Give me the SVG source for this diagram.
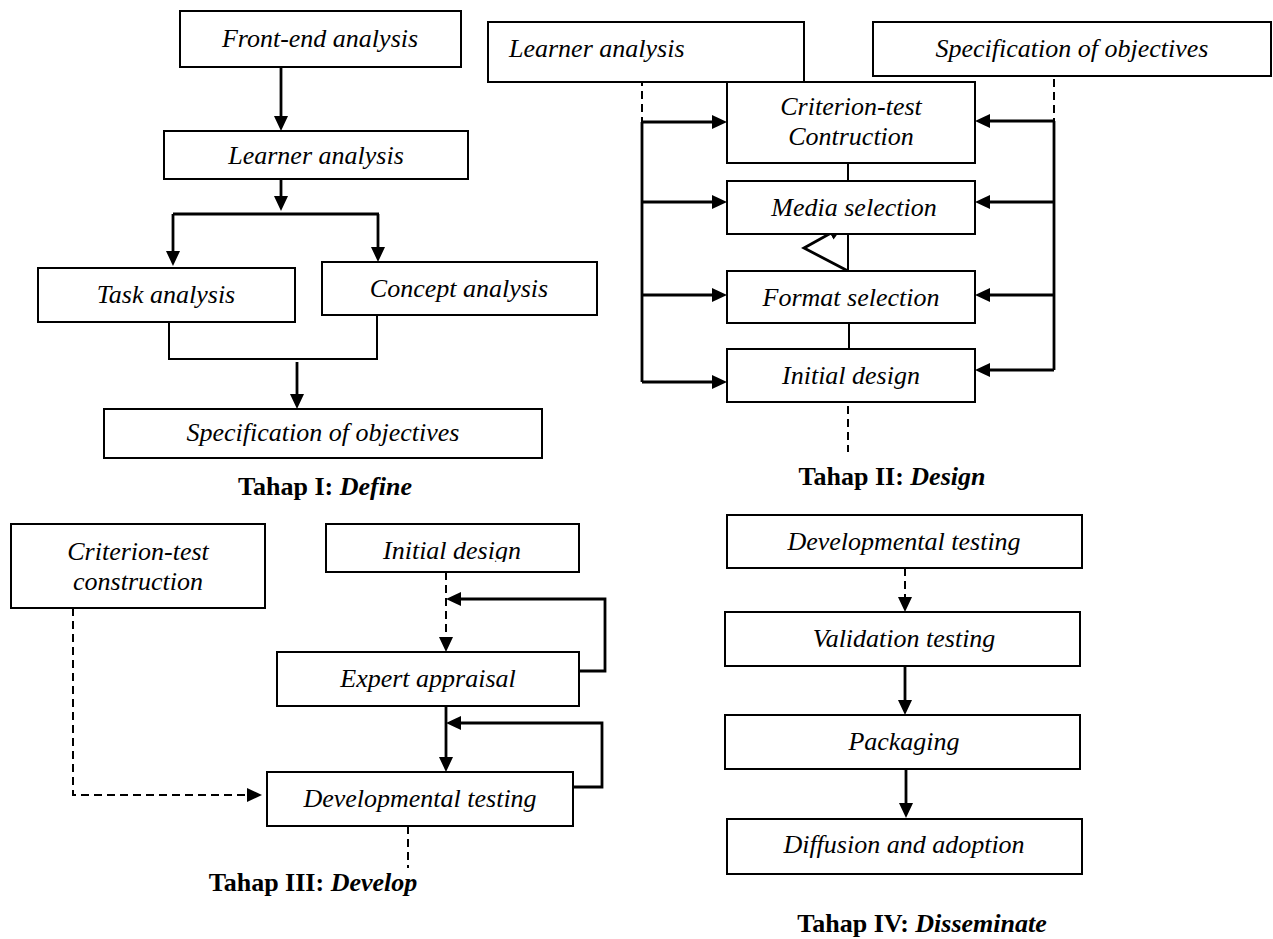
<svg xmlns="http://www.w3.org/2000/svg" width="1273" height="939" viewBox="0 0 1273 939">
<style>
.box{fill:#fff;stroke:#000;stroke-width:2}
.t{font-family:"Liberation Serif","Times New Roman",serif;font-style:italic;font-size:26px;fill:#000;text-anchor:middle}
.ttl{font-family:"Liberation Serif","Times New Roman",serif;font-weight:bold;font-size:26px;fill:#000;text-anchor:middle}
.ln{fill:none;stroke:#000;stroke-width:2}
.ar{fill:none;stroke:#000;stroke-width:2.8;marker-end:url(#ah)}
.arl{fill:none;stroke:#000;stroke-width:2.8}
.ds{fill:none;stroke:#000;stroke-width:2;stroke-dasharray:8 5}
.dsa{fill:none;stroke:#000;stroke-width:2;stroke-dasharray:8 5;marker-end:url(#ah)}
</style>
<defs>
<marker id="ah" viewBox="0 0 15 14" refX="1" refY="7" markerWidth="15" markerHeight="14" markerUnits="userSpaceOnUse" orient="auto">
<path d="M0,0 L15,7 L0,14 z" fill="#000"/>
</marker>
<clipPath id="clipInit3">
<rect x="326" y="524" width="253" height="38"/>
</clipPath>
</defs>
<rect width="1273" height="939" fill="#fff"/>

<g id="connectors">
<!-- Define -->
<path class="ar" d="M281,67 V117"/>
<path class="ar" d="M281,179 V197"/>
<path class="arl" d="M173,214 H379"/>
<path class="ar" d="M173,214 V252"/>
<path class="ar" d="M378,214 V248"/>
<path class="ln" d="M169,310 V359 H377 V310"/>
<path class="ar" d="M297,362 V395"/>
<!-- Design -->
<path class="ds" d="M642,65 V122"/>
<path class="arl" d="M642,122 V382"/>
<path class="ar" d="M642,122 H713"/>
<path class="ar" d="M642,202 H713"/>
<path class="ar" d="M642,295 H713"/>
<path class="ar" d="M642,382 H713"/>
<path class="ds" d="M1054,66 V121"/>
<path class="arl" d="M1054,121 V370"/>
<path class="ar" d="M1054,121 H989"/>
<path class="ar" d="M1054,202 H989"/>
<path class="ar" d="M1054,295 H989"/>
<path class="ar" d="M1054,370 H989"/>
<path class="ln" d="M848,153 V181"/>
<path class="ln" d="M848,234 V271"/>
<path class="ar" d="M848,271 L804,248 L831,233"/>
<path class="ln" d="M849,313 V349"/>
<path class="ds" d="M848,393 V452"/>
<!-- Develop -->
<path class="dsa" d="M446,572 V638"/>
<path class="ar" d="M579,671 H605 V599 H460"/>
<path class="ar" d="M446,697 V758"/>
<path class="ar" d="M573,787 H602 V723 H460"/>
<path class="dsa" d="M73,608 V795 H248"/>
<path class="ds" d="M408,826 V868"/>
<!-- Disseminate -->
<path class="dsa" d="M905,555 V598"/>
<path class="ar" d="M905,660 V701"/>
<path class="ar" d="M906,762 V804"/>
</g>

<!-- Tahap I: Define -->
<g id="front-end">
<rect class="box" x="180" y="11" width="281" height="56"/>
<text class="t" x="320" y="47">Front-end analysis</text>
</g>
<g id="learner-1">
<rect class="box" x="164" y="131" width="304" height="48"/>
<text class="t" x="316" y="164">Learner analysis</text>
</g>
<g id="task">
<rect class="box" x="38" y="268" width="257" height="54"/>
<text class="t" x="166" y="303">Task analysis</text>
</g>
<g id="concept">
<rect class="box" x="322" y="262" width="275" height="53"/>
<text class="t" x="459" y="297">Concept analysis</text>
</g>
<g id="spec-1">
<rect class="box" x="104" y="409" width="438" height="49"/>
<text class="t" x="323" y="441">Specification of objectives</text>
</g>
<g id="label-1">
<text class="ttl" x="325" y="495">Tahap I: <tspan font-style="italic">Define</tspan></text>
</g>

<!-- Tahap II: Design -->
<g id="learner-2">
<rect class="box" x="488" y="22" width="316" height="60"/>
<text class="t" x="509" y="57" style="text-anchor:start">Learner analysis</text>
</g>
<g id="spec-2">
<rect class="box" x="873" y="22" width="398" height="54"/>
<text class="t" x="1072" y="57">Specification of objectives</text>
</g>
<g id="criterion-2">
<rect class="box" x="727" y="82" width="248" height="81"/>
<text class="t" x="851" y="115">Criterion-test</text>
<text class="t" x="851" y="145">Contruction</text>
</g>
<g id="media">
<rect class="box" x="727" y="181" width="248" height="53"/>
<text class="t" x="854" y="216">Media selection</text>
</g>
<g id="format">
<rect class="box" x="727" y="271" width="248" height="52"/>
<text class="t" x="851" y="306">Format selection</text>
</g>
<g id="initial-2">
<rect class="box" x="727" y="349" width="248" height="53"/>
<text class="t" x="851" y="384">Initial design</text>
</g>
<g id="label-2">
<text class="ttl" x="892" y="485">Tahap II: <tspan font-style="italic">Design</tspan></text>
</g>

<!-- Tahap III: Develop -->
<g id="criterion-3">
<rect class="box" x="11" y="524" width="254" height="84"/>
<text class="t" x="138" y="560">Criterion-test</text>
<text class="t" x="138" y="590">construction</text>
</g>
<g id="initial-3">
<rect class="box" x="326" y="524" width="253" height="48"/>
<text class="t" x="452" y="559" clip-path="url(#clipInit3)">Initial design</text>
</g>
<g id="expert">
<rect class="box" x="277" y="652" width="302" height="54"/>
<text class="t" x="428" y="687">Expert appraisal</text>
</g>
<g id="devtest-3">
<rect class="box" x="267" y="772" width="306" height="54"/>
<text class="t" x="420" y="807">Developmental testing</text>
</g>
<g id="label-3">
<text class="ttl" x="313" y="891">Tahap III: <tspan font-style="italic">Develop</tspan></text>
</g>

<!-- Tahap IV: Disseminate -->
<g id="devtest-4">
<rect class="box" x="727" y="515" width="355" height="53"/>
<text class="t" x="904" y="550">Developmental testing</text>
</g>
<g id="validation">
<rect class="box" x="725" y="612" width="355" height="54"/>
<text class="t" x="904" y="647">Validation testing</text>
</g>
<g id="packaging">
<rect class="box" x="725" y="715" width="355" height="54"/>
<text class="t" x="904" y="750">Packaging</text>
</g>
<g id="diffusion">
<rect class="box" x="727" y="819" width="355" height="55"/>
<text class="t" x="904" y="853">Diffusion and adoption</text>
</g>
<g id="label-4">
<text class="ttl" x="922" y="932">Tahap IV: <tspan font-style="italic">Disseminate</tspan></text>
</g>
</svg>
